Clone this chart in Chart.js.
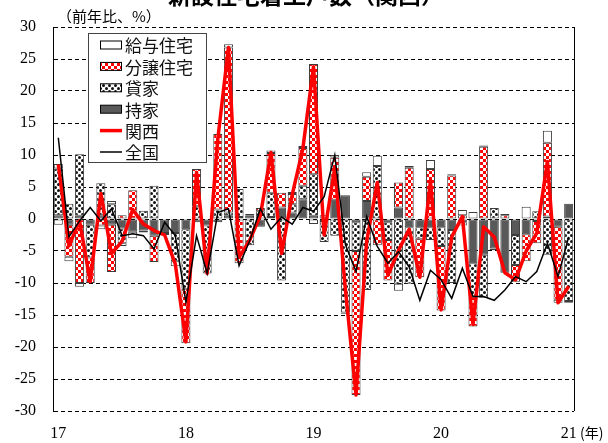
<!DOCTYPE html>
<html lang="ja">
<head>
<meta charset="utf-8">
<script src="https://cdn.jsdelivr.net/npm/chart.js@4.4.1/dist/chart.umd.min.js"></script>
<style>
  html, body { margin: 0; padding: 0; background: #fff; }
  #wrap { position: relative; width: 608px; height: 443px; overflow: hidden; }
  #chart { position: absolute; left: 0; top: 0; }
  .title { position: absolute; top: -17px; left: 0; width: 612px; text-align: center;
           font: bold 23px/23px "Noto Sans CJK JP"; color: #000; white-space: nowrap; }
  .unit { position: absolute; left: 57px; top: 8px; font: 15px/15px "Noto Sans CJK JP"; color: #000; }
  .year { position: absolute; left: 580px; top: 425px; font: 14px/14px "Noto Sans CJK JP"; color: #000; }
</style>
</head>
<body>
<div id="wrap">
  <canvas id="chart" width="608" height="443"></canvas>
  <div class="title">新設住宅着工戸数（関西）</div>
  <div class="unit">（前年比、%）</div>
  <div class="year">(年)</div>
</div>
<script>
// Jan 2017 .. Jan 2021, monthly
const yearTicks = ['17', '18', '19', '20', '21'];
const months = [];
for (let y = 2017; y <= 2021; y++) {
  for (let m = 1; m <= 12; m++) {
    if (y === 2021 && m > 1) break;
    months.push(y + '/' + m);
  }
}

// contributions (% pt)
const mochiie = [
  0.6, -0.9, 0.5, -0.9, 0.6, -0.9, -1.5, -2.0, -1.8, -2.6, -2.2, -2.2,
  -1.6, -0.5, -1.0, -0.5, 0.5, 0.3, 0.5, -1.2, 0.3, 1.8, 1.0, 3.1,
  0.5, -0.3, 3.0, 3.7, -0.5, 2.8, 0, -0.5, 1.8, -1.3, -1.3, -1.3,
  -1.3, -1.7, -0.5, -6.9, -5.6, -4.6, -8.4, -2.5, -2.4, -0.3, 0.4, -1.2,
  2.4
];
const kashiya = [
  7.3, 2.4, 9.6, -5.1, 5.0, 2.3, -2.3, 0, 1.3, 5.2, 0, -4.4,
  -9.3, 2.0, -7.5, 1.5, 0.5, 4.4, -4.1, 1.2, 3.8, -9.6, 1.3, 2.1,
  6.5, -3.3, -2.6, -14.6, -4.5, -11.1, 8.3, -2.8, -10.1, -8.8, -1.8, -2.0,
  -2.9, -8.3, -0.5, -5.2, -6.7, 1.7, 0, -4.7, 0, 1.2, -5.6, 0,
  -12.8
];
const bunjo = [
  0.7, -5.0, -10.0, -4.0, -1.0, -7.4, 0.6, 4.5, -0.3, -4.1, -0.3, 0,
  -8.5, 5.8, 0, 11.8, 25.8, -6.9, 0.3, 0.5, 6.2, 2.3, 1.6, 5.9,
  17.2, 0, 6.6, 0, -22.5, 3.8, -4.1, -6.3, 3.9, 8.0, -6.0, 7.8,
  -10.1, 6.8, 0.6, -4.7, 11.3, 0, 0.6, -2.6, -4.2, -3.5, 11.5, -11.4,
  -0.3
];
const kyuyo = [
  -0.9, -0.7, -0.6, 0, -0.6, 0.5, -0.4, -1.0, 0, 0, 0, -0.8,
  0, 0, 0, 0, 0.5, 0, 0, 0, 0.4, 0, 0.3, 0.3,
  -0.8, 0.6, 0.4, -0.2, 0, 0.7, 1.6, 0, -1.1, 0.3, 0, 1.4,
  0, 0.2, 0.8, 1.1, 0.2, -0.3, 0.2, 0, 1.9, 0, 1.9, -0.5,
  0
];

// year-on-year, %
const kansai = [
  8.5, -4.2, -0.3, -9.8, 4.0, -5.4, -3.5, 1.5, -0.8, -1.8, -2.5, -7.0,
  -19.2, 7.3, -8.5, 12.5, 26.8, -6.0, -3.3, 0.5, 10.4, -5.4, 3.8, 11.0,
  23.8, -2.5, 8.0, -11.0, -27.5, -3.5, 5.7, -8.8, -4.9, -1.6, -9.1, 6.0,
  -14.2, -2.8, 0.4, -16.5, -1.2, -2.8, -8.4, -9.5, -5.0, -2.2, 9.0, -13.1,
  -10.5
];
const zenkoku = [
  12.7, -2.8, -0.3, 1.8, -0.3, 1.6, -2.6, -2.3, -2.6, -4.7, -0.5, -2.6,
  -13.0, -2.6, -8.5, 1.0, 1.6, -7.3, -3.4, 1.6, -1.6, 0.3, -0.8, 1.8,
  1.2, 3.5, 10.0, -4.0, -8.2, 0.4, -4.3, -6.9, -5.1, -7.5, -12.7, -8.0,
  -9.5, -12.4, -7.7, -12.1, -12.1, -12.7, -11.1, -9.0, -9.8, -8.2, -3.8, -9.0,
  -2.8
];

function makePattern(size, draw) {
  const c = document.createElement('canvas');
  c.width = size;
  c.height = size;
  const g = c.getContext('2d');
  draw(g);
  return g.createPattern(c, 'repeat');
}

const checkRed = makePattern(6, g => {
  g.fillStyle = '#fff';
  g.fillRect(0, 0, 6, 6);
  g.fillStyle = '#ff0000';
  g.fillRect(0, 0, 3, 3);
  g.fillRect(3, 3, 3, 3);
});

const dots = makePattern(6, g => {
  g.fillStyle = '#fff';
  g.fillRect(0, 0, 6, 6);
  g.fillStyle = '#111';
  g.beginPath();
  g.arc(1.5, 1.5, 1.5, 0, Math.PI * 2);
  g.arc(4.5, 4.5, 1.5, 0, Math.PI * 2);
  g.fill();
});

const barStyle = {
  type: 'bar',
  stack: 'houses',
  borderColor: '#3c3c3c',
  borderWidth: 1,
  borderSkipped: false,
  order: 2
};

// legend box drawn inside the plot, Excel style
const boxLegend = {
  id: 'boxLegend',
  afterDraw(chart) {
    const ctx = chart.ctx;
    const area = chart.chartArea;
    ctx.save();

    // right frame line
    ctx.strokeStyle = '#000';
    ctx.lineWidth = 1;
    ctx.beginPath();
    ctx.moveTo(Math.round(area.right) + 0.5, area.top);
    ctx.lineTo(Math.round(area.right) + 0.5, area.bottom);
    ctx.stroke();

    const x0 = 88.5, y0 = 33.5, w = 118, h = 129;
    ctx.fillStyle = '#fff';
    ctx.fillRect(x0, y0, w, h);
    ctx.strokeStyle = '#444';
    ctx.strokeRect(x0, y0, w, h);

    const order = [3, 2, 1, 0, 4, 5];
    ctx.font = '17px "Noto Sans CJK JP"';
    ctx.textBaseline = 'middle';
    order.forEach((di, k) => {
      const ds = chart.data.datasets[di];
      const cy = 45 + k * 21.4;
      if (ds.type === 'line') {
        ctx.strokeStyle = ds.borderColor;
        ctx.lineWidth = ds.borderWidth;
        ctx.beginPath();
        ctx.moveTo(100, cy);
        ctx.lineTo(122, cy);
        ctx.stroke();
      } else {
        ctx.fillStyle = ds.backgroundColor;
        ctx.fillRect(100.5, cy - 4, 21, 8);
        ctx.strokeStyle = '#000';
        ctx.lineWidth = 1;
        ctx.strokeRect(100.5, cy - 4, 21, 8);
      }
      ctx.fillStyle = '#111';
      ctx.fillText(ds.label, 125, cy + 1);
    });
    ctx.restore();
  }
};

new Chart(document.getElementById('chart'), {
  data: {
    labels: months,
    datasets: [
      { ...barStyle, label: '持家', data: mochiie, backgroundColor: '#595959' },
      { ...barStyle, label: '貸家', data: kashiya, backgroundColor: dots },
      { ...barStyle, label: '分譲住宅', data: bunjo, backgroundColor: checkRed },
      { ...barStyle, label: '給与住宅', data: kyuyo, backgroundColor: '#fff' },
      {
        type: 'line', label: '関西', data: kansai, stack: 'kansai', order: 1,
        borderColor: '#ff0000', borderWidth: 3.5, pointRadius: 0, tension: 0,
        fill: false, borderJoinStyle: 'round'
      },
      {
        type: 'line', label: '全国', data: zenkoku, stack: 'zenkoku', order: 0,
        borderColor: '#000', borderWidth: 1.5, pointRadius: 0, tension: 0,
        fill: false
      }
    ]
  },
  options: {
    responsive: false,
    animation: false,
    layout: { padding: { top: 27, right: 34, left: 0, bottom: 0 } },
    datasets: { bar: { barPercentage: 0.85, categoryPercentage: 1.0 } },
    plugins: {
      legend: { display: false },
      tooltip: { enabled: false }
    },
    scales: {
      x: {
        stacked: true,
        offset: true,
        grid: { display: false, drawTicks: false },
        border: { display: false },
        ticks: {
          autoSkip: false,
          maxRotation: 0,
          padding: 13,
          color: '#000',
          font: { family: 'Liberation Serif', size: 16 },
          callback: (v, i) => (i % 12 === 0 ? yearTicks[i / 12] : '')
        },
        afterFit: s => { s.height = 32; }
      },
      y: {
        stacked: true,
        min: -30,
        max: 30,
        grid: { color: '#000', lineWidth: 1, drawTicks: false },
        border: { display: true, color: '#000', width: 1, dash: [4, 3] },
        ticks: {
          stepSize: 5,
          padding: 17,
          color: '#000',
          font: { family: 'Liberation Serif', size: 16 }
        },
        afterFit: s => { s.width = 53; }
      }
    }
  },
  plugins: [boxLegend]
});
</script>
</body>
</html>
